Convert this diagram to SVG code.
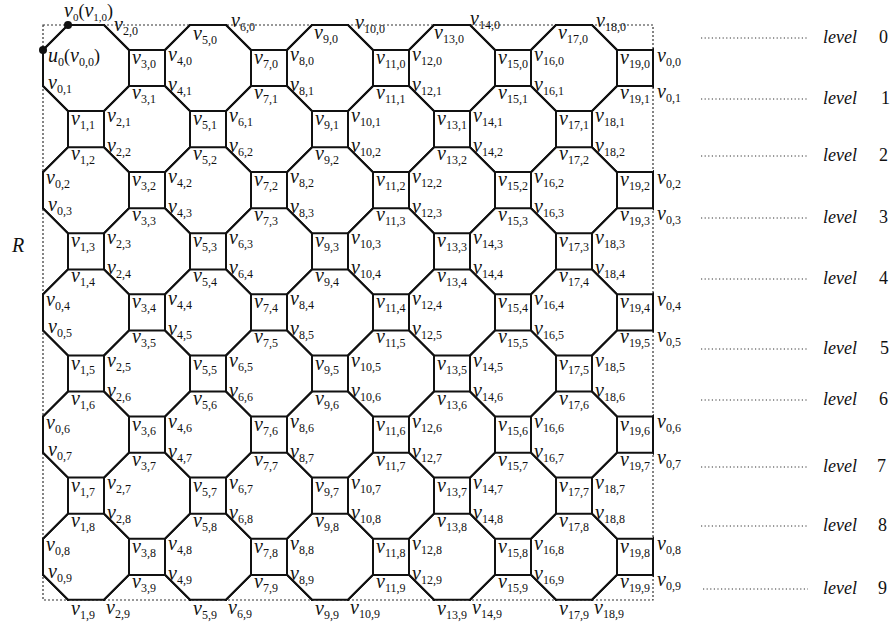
<svg xmlns="http://www.w3.org/2000/svg" width="891" height="622" viewBox="0 0 891 622" font-family="'Liberation Serif', serif">
<style>
.e{fill:none;stroke:#111;stroke-width:2;stroke-linejoin:miter}
.frame{fill:none;stroke:#333;stroke-width:1.2;stroke-dasharray:2 2}
.lvl{stroke:#333;stroke-width:1;stroke-dasharray:1.2 2.4}
text{font-family:'Liberation Serif',serif;font-size:20px;font-style:italic;fill:#111}
tspan{font-style:normal;font-size:12px}
tspan.p{font-size:18px}
tspan.q{font-size:11px}
text.lv{font-size:18px}
text.ld{font-size:18px;font-style:normal}
</style>
<defs>
<path id="oct" d="M-18,-43H18L43,-18V18L18,43H-18L-43,18V-18Z"/>
<g id="colO"><use href="#oct" y="6.9"/><use href="#oct" y="129.1"/><use href="#oct" y="251.3"/><use href="#oct" y="373.5"/><use href="#oct" y="495.7"/><use href="#oct" y="617.9"/></g>
<g id="colE"><use href="#oct" y="68"/><use href="#oct" y="190.2"/><use href="#oct" y="312.4"/><use href="#oct" y="434.6"/><use href="#oct" y="556.8"/></g>
<clipPath id="clip"><rect x="42" y="24" width="612" height="577"/></clipPath>
</defs>
<rect class="frame" x="43" y="25" width="610" height="575"/>
<g id="connectors" class="e" clip-path="url(#clip)">
<use href="#colO" x="25"/><use href="#colO" x="147"/><use href="#colO" x="269"/><use href="#colO" x="391"/><use href="#colO" x="513"/><use href="#colO" x="635"/>
<use href="#colE" x="86"/><use href="#colE" x="208"/><use href="#colE" x="330"/><use href="#colE" x="452"/><use href="#colE" x="574"/><use href="#colE" x="696"/>
</g>
<g id="dots" fill="#111"><circle cx="68" cy="25" r="4"/><circle cx="43" cy="50" r="4"/></g>
<g id="R"><text x="12" y="252">R</text></g>
<g id="levels">
<line class="lvl" x1="701" y1="38" x2="808" y2="38"/><text class="lv" x="823" y="43">level</text><text class="ld" x="879" y="43">0</text>
<line class="lvl" x1="701" y1="99" x2="808" y2="99"/><text class="lv" x="823" y="104">level</text><text class="ld" x="881" y="104">1</text>
<line class="lvl" x1="701" y1="156" x2="808" y2="156"/><text class="lv" x="823" y="161">level</text><text class="ld" x="879" y="161">2</text>
<line class="lvl" x1="701" y1="218" x2="808" y2="218"/><text class="lv" x="823" y="223">level</text><text class="ld" x="879" y="223">3</text>
<line class="lvl" x1="701" y1="279" x2="808" y2="279"/><text class="lv" x="823" y="284">level</text><text class="ld" x="879" y="284">4</text>
<line class="lvl" x1="701" y1="349" x2="808" y2="349"/><text class="lv" x="823" y="354">level</text><text class="ld" x="880" y="354">5</text>
<line class="lvl" x1="701" y1="400" x2="808" y2="400"/><text class="lv" x="823" y="405">level</text><text class="ld" x="879" y="405">6</text>
<line class="lvl" x1="701" y1="467" x2="808" y2="467"/><text class="lv" x="823" y="472">level</text><text class="ld" x="877" y="472">7</text>
<line class="lvl" x1="701" y1="526" x2="808" y2="526"/><text class="lv" x="823" y="531">level</text><text class="ld" x="878" y="531">8</text>
<line class="lvl" x1="703" y1="589" x2="808" y2="589"/><text class="lv" x="823" y="594">level</text><text class="ld" x="878" y="594">9</text>
</g>
<g id="nodes">
<g id="v1_0"><text x="64" y="17">v<tspan class="q" dy="4">0</tspan><tspan class="p" dy="-4">(</tspan>v<tspan class="q" dy="4">1,0</tspan><tspan class="p" dy="-4">)</tspan></text></g>
<g id="v0_0"><text x="48" y="62">u<tspan dy="4">0</tspan><tspan class="p" dy="-4">(</tspan>v<tspan dy="4">0,0</tspan><tspan class="p" dy="-4">)</tspan></text></g>
<g id="v0_1"><text x="48" y="89">v<tspan dy="4">0,1</tspan></text></g>
<g id="v0_2"><text x="46" y="184">v<tspan dy="4">0,2</tspan></text></g>
<g id="v0_3"><text x="48" y="211">v<tspan dy="4">0,3</tspan></text></g>
<g id="v0_4"><text x="46" y="306">v<tspan dy="4">0,4</tspan></text></g>
<g id="v0_5"><text x="48" y="333">v<tspan dy="4">0,5</tspan></text></g>
<g id="v0_6"><text x="46" y="429">v<tspan dy="4">0,6</tspan></text></g>
<g id="v0_7"><text x="48" y="456">v<tspan dy="4">0,7</tspan></text></g>
<g id="v0_8"><text x="46" y="551">v<tspan dy="4">0,8</tspan></text></g>
<g id="v0_9"><text x="48" y="578">v<tspan dy="4">0,9</tspan></text></g>
<g id="v1_1"><text x="71" y="125">v<tspan dy="4">1,1</tspan></text></g>
<g id="v1_2"><text x="71" y="160">v<tspan dy="4">1,2</tspan></text></g>
<g id="v1_3"><text x="71" y="247">v<tspan dy="4">1,3</tspan></text></g>
<g id="v1_4"><text x="71" y="282">v<tspan dy="4">1,4</tspan></text></g>
<g id="v1_5"><text x="71" y="370">v<tspan dy="4">1,5</tspan></text></g>
<g id="v1_6"><text x="71" y="405">v<tspan dy="4">1,6</tspan></text></g>
<g id="v1_7"><text x="71" y="492">v<tspan dy="4">1,7</tspan></text></g>
<g id="v1_8"><text x="71" y="527">v<tspan dy="4">1,8</tspan></text></g>
<g id="v1_9"><text x="71" y="615">v<tspan dy="4">1,9</tspan></text></g>
<g id="v2_0"><text x="114" y="31">v<tspan dy="4">2,0</tspan></text></g>
<g id="v2_1"><text x="107" y="122">v<tspan dy="4">2,1</tspan></text></g>
<g id="v2_2"><text x="107" y="152">v<tspan dy="4">2,2</tspan></text></g>
<g id="v2_3"><text x="107" y="244">v<tspan dy="4">2,3</tspan></text></g>
<g id="v2_4"><text x="107" y="274">v<tspan dy="4">2,4</tspan></text></g>
<g id="v2_5"><text x="107" y="367">v<tspan dy="4">2,5</tspan></text></g>
<g id="v2_6"><text x="107" y="397">v<tspan dy="4">2,6</tspan></text></g>
<g id="v2_7"><text x="107" y="489">v<tspan dy="4">2,7</tspan></text></g>
<g id="v2_8"><text x="107" y="519">v<tspan dy="4">2,8</tspan></text></g>
<g id="v2_9"><text x="106" y="614">v<tspan dy="4">2,9</tspan></text></g>
<g id="v3_0"><text x="132" y="64">v<tspan dy="4">3,0</tspan></text></g>
<g id="v3_1"><text x="132" y="99">v<tspan dy="4">3,1</tspan></text></g>
<g id="v3_2"><text x="132" y="186">v<tspan dy="4">3,2</tspan></text></g>
<g id="v3_3"><text x="132" y="221">v<tspan dy="4">3,3</tspan></text></g>
<g id="v3_4"><text x="132" y="308">v<tspan dy="4">3,4</tspan></text></g>
<g id="v3_5"><text x="132" y="343">v<tspan dy="4">3,5</tspan></text></g>
<g id="v3_6"><text x="132" y="431">v<tspan dy="4">3,6</tspan></text></g>
<g id="v3_7"><text x="132" y="466">v<tspan dy="4">3,7</tspan></text></g>
<g id="v3_8"><text x="132" y="553">v<tspan dy="4">3,8</tspan></text></g>
<g id="v3_9"><text x="132" y="588">v<tspan dy="4">3,9</tspan></text></g>
<g id="v4_0"><text x="168" y="61">v<tspan dy="4">4,0</tspan></text></g>
<g id="v4_1"><text x="168" y="91">v<tspan dy="4">4,1</tspan></text></g>
<g id="v4_2"><text x="168" y="183">v<tspan dy="4">4,2</tspan></text></g>
<g id="v4_3"><text x="168" y="213">v<tspan dy="4">4,3</tspan></text></g>
<g id="v4_4"><text x="168" y="305">v<tspan dy="4">4,4</tspan></text></g>
<g id="v4_5"><text x="168" y="335">v<tspan dy="4">4,5</tspan></text></g>
<g id="v4_6"><text x="168" y="428">v<tspan dy="4">4,6</tspan></text></g>
<g id="v4_7"><text x="168" y="458">v<tspan dy="4">4,7</tspan></text></g>
<g id="v4_8"><text x="168" y="550">v<tspan dy="4">4,8</tspan></text></g>
<g id="v4_9"><text x="168" y="580">v<tspan dy="4">4,9</tspan></text></g>
<g id="v5_0"><text x="193" y="40">v<tspan dy="4">5,0</tspan></text></g>
<g id="v5_1"><text x="193" y="125">v<tspan dy="4">5,1</tspan></text></g>
<g id="v5_2"><text x="193" y="160">v<tspan dy="4">5,2</tspan></text></g>
<g id="v5_3"><text x="193" y="247">v<tspan dy="4">5,3</tspan></text></g>
<g id="v5_4"><text x="193" y="282">v<tspan dy="4">5,4</tspan></text></g>
<g id="v5_5"><text x="193" y="370">v<tspan dy="4">5,5</tspan></text></g>
<g id="v5_6"><text x="193" y="405">v<tspan dy="4">5,6</tspan></text></g>
<g id="v5_7"><text x="193" y="492">v<tspan dy="4">5,7</tspan></text></g>
<g id="v5_8"><text x="193" y="527">v<tspan dy="4">5,8</tspan></text></g>
<g id="v5_9"><text x="193" y="615">v<tspan dy="4">5,9</tspan></text></g>
<g id="v6_0"><text x="231" y="27">v<tspan dy="4">6,0</tspan></text></g>
<g id="v6_1"><text x="229" y="122">v<tspan dy="4">6,1</tspan></text></g>
<g id="v6_2"><text x="229" y="152">v<tspan dy="4">6,2</tspan></text></g>
<g id="v6_3"><text x="229" y="244">v<tspan dy="4">6,3</tspan></text></g>
<g id="v6_4"><text x="229" y="274">v<tspan dy="4">6,4</tspan></text></g>
<g id="v6_5"><text x="229" y="367">v<tspan dy="4">6,5</tspan></text></g>
<g id="v6_6"><text x="229" y="397">v<tspan dy="4">6,6</tspan></text></g>
<g id="v6_7"><text x="229" y="489">v<tspan dy="4">6,7</tspan></text></g>
<g id="v6_8"><text x="229" y="519">v<tspan dy="4">6,8</tspan></text></g>
<g id="v6_9"><text x="228" y="614">v<tspan dy="4">6,9</tspan></text></g>
<g id="v7_0"><text x="254" y="64">v<tspan dy="4">7,0</tspan></text></g>
<g id="v7_1"><text x="254" y="99">v<tspan dy="4">7,1</tspan></text></g>
<g id="v7_2"><text x="254" y="186">v<tspan dy="4">7,2</tspan></text></g>
<g id="v7_3"><text x="254" y="221">v<tspan dy="4">7,3</tspan></text></g>
<g id="v7_4"><text x="254" y="308">v<tspan dy="4">7,4</tspan></text></g>
<g id="v7_5"><text x="254" y="343">v<tspan dy="4">7,5</tspan></text></g>
<g id="v7_6"><text x="254" y="431">v<tspan dy="4">7,6</tspan></text></g>
<g id="v7_7"><text x="254" y="466">v<tspan dy="4">7,7</tspan></text></g>
<g id="v7_8"><text x="254" y="553">v<tspan dy="4">7,8</tspan></text></g>
<g id="v7_9"><text x="254" y="588">v<tspan dy="4">7,9</tspan></text></g>
<g id="v8_0"><text x="290" y="61">v<tspan dy="4">8,0</tspan></text></g>
<g id="v8_1"><text x="290" y="91">v<tspan dy="4">8,1</tspan></text></g>
<g id="v8_2"><text x="290" y="183">v<tspan dy="4">8,2</tspan></text></g>
<g id="v8_3"><text x="290" y="213">v<tspan dy="4">8,3</tspan></text></g>
<g id="v8_4"><text x="290" y="305">v<tspan dy="4">8,4</tspan></text></g>
<g id="v8_5"><text x="290" y="335">v<tspan dy="4">8,5</tspan></text></g>
<g id="v8_6"><text x="290" y="428">v<tspan dy="4">8,6</tspan></text></g>
<g id="v8_7"><text x="290" y="458">v<tspan dy="4">8,7</tspan></text></g>
<g id="v8_8"><text x="290" y="550">v<tspan dy="4">8,8</tspan></text></g>
<g id="v8_9"><text x="290" y="580">v<tspan dy="4">8,9</tspan></text></g>
<g id="v9_0"><text x="314" y="39">v<tspan dy="4">9,0</tspan></text></g>
<g id="v9_1"><text x="315" y="125">v<tspan dy="4">9,1</tspan></text></g>
<g id="v9_2"><text x="315" y="160">v<tspan dy="4">9,2</tspan></text></g>
<g id="v9_3"><text x="315" y="247">v<tspan dy="4">9,3</tspan></text></g>
<g id="v9_4"><text x="315" y="282">v<tspan dy="4">9,4</tspan></text></g>
<g id="v9_5"><text x="315" y="370">v<tspan dy="4">9,5</tspan></text></g>
<g id="v9_6"><text x="315" y="405">v<tspan dy="4">9,6</tspan></text></g>
<g id="v9_7"><text x="315" y="492">v<tspan dy="4">9,7</tspan></text></g>
<g id="v9_8"><text x="315" y="527">v<tspan dy="4">9,8</tspan></text></g>
<g id="v9_9"><text x="315" y="615">v<tspan dy="4">9,9</tspan></text></g>
<g id="v10_0"><text x="355" y="29">v<tspan dy="4">10,0</tspan></text></g>
<g id="v10_1"><text x="351" y="122">v<tspan dy="4">10,1</tspan></text></g>
<g id="v10_2"><text x="351" y="152">v<tspan dy="4">10,2</tspan></text></g>
<g id="v10_3"><text x="351" y="244">v<tspan dy="4">10,3</tspan></text></g>
<g id="v10_4"><text x="351" y="274">v<tspan dy="4">10,4</tspan></text></g>
<g id="v10_5"><text x="351" y="367">v<tspan dy="4">10,5</tspan></text></g>
<g id="v10_6"><text x="351" y="397">v<tspan dy="4">10,6</tspan></text></g>
<g id="v10_7"><text x="351" y="489">v<tspan dy="4">10,7</tspan></text></g>
<g id="v10_8"><text x="351" y="519">v<tspan dy="4">10,8</tspan></text></g>
<g id="v10_9"><text x="350" y="614">v<tspan dy="4">10,9</tspan></text></g>
<g id="v11_0"><text x="376" y="64">v<tspan dy="4">11,0</tspan></text></g>
<g id="v11_1"><text x="376" y="99">v<tspan dy="4">11,1</tspan></text></g>
<g id="v11_2"><text x="376" y="186">v<tspan dy="4">11,2</tspan></text></g>
<g id="v11_3"><text x="376" y="221">v<tspan dy="4">11,3</tspan></text></g>
<g id="v11_4"><text x="376" y="308">v<tspan dy="4">11,4</tspan></text></g>
<g id="v11_5"><text x="376" y="343">v<tspan dy="4">11,5</tspan></text></g>
<g id="v11_6"><text x="376" y="431">v<tspan dy="4">11,6</tspan></text></g>
<g id="v11_7"><text x="376" y="466">v<tspan dy="4">11,7</tspan></text></g>
<g id="v11_8"><text x="376" y="553">v<tspan dy="4">11,8</tspan></text></g>
<g id="v11_9"><text x="376" y="588">v<tspan dy="4">11,9</tspan></text></g>
<g id="v12_0"><text x="412" y="61">v<tspan dy="4">12,0</tspan></text></g>
<g id="v12_1"><text x="412" y="91">v<tspan dy="4">12,1</tspan></text></g>
<g id="v12_2"><text x="412" y="183">v<tspan dy="4">12,2</tspan></text></g>
<g id="v12_3"><text x="412" y="213">v<tspan dy="4">12,3</tspan></text></g>
<g id="v12_4"><text x="412" y="305">v<tspan dy="4">12,4</tspan></text></g>
<g id="v12_5"><text x="412" y="335">v<tspan dy="4">12,5</tspan></text></g>
<g id="v12_6"><text x="412" y="428">v<tspan dy="4">12,6</tspan></text></g>
<g id="v12_7"><text x="412" y="458">v<tspan dy="4">12,7</tspan></text></g>
<g id="v12_8"><text x="412" y="550">v<tspan dy="4">12,8</tspan></text></g>
<g id="v12_9"><text x="412" y="580">v<tspan dy="4">12,9</tspan></text></g>
<g id="v13_0"><text x="434" y="39">v<tspan dy="4">13,0</tspan></text></g>
<g id="v13_1"><text x="437" y="125">v<tspan dy="4">13,1</tspan></text></g>
<g id="v13_2"><text x="437" y="160">v<tspan dy="4">13,2</tspan></text></g>
<g id="v13_3"><text x="437" y="247">v<tspan dy="4">13,3</tspan></text></g>
<g id="v13_4"><text x="437" y="282">v<tspan dy="4">13,4</tspan></text></g>
<g id="v13_5"><text x="437" y="370">v<tspan dy="4">13,5</tspan></text></g>
<g id="v13_6"><text x="437" y="405">v<tspan dy="4">13,6</tspan></text></g>
<g id="v13_7"><text x="437" y="492">v<tspan dy="4">13,7</tspan></text></g>
<g id="v13_8"><text x="437" y="527">v<tspan dy="4">13,8</tspan></text></g>
<g id="v13_9"><text x="437" y="615">v<tspan dy="4">13,9</tspan></text></g>
<g id="v14_0"><text x="470" y="25">v<tspan dy="4">14,0</tspan></text></g>
<g id="v14_1"><text x="473" y="122">v<tspan dy="4">14,1</tspan></text></g>
<g id="v14_2"><text x="473" y="152">v<tspan dy="4">14,2</tspan></text></g>
<g id="v14_3"><text x="473" y="244">v<tspan dy="4">14,3</tspan></text></g>
<g id="v14_4"><text x="473" y="274">v<tspan dy="4">14,4</tspan></text></g>
<g id="v14_5"><text x="473" y="367">v<tspan dy="4">14,5</tspan></text></g>
<g id="v14_6"><text x="473" y="397">v<tspan dy="4">14,6</tspan></text></g>
<g id="v14_7"><text x="473" y="489">v<tspan dy="4">14,7</tspan></text></g>
<g id="v14_8"><text x="473" y="519">v<tspan dy="4">14,8</tspan></text></g>
<g id="v14_9"><text x="472" y="614">v<tspan dy="4">14,9</tspan></text></g>
<g id="v15_0"><text x="498" y="64">v<tspan dy="4">15,0</tspan></text></g>
<g id="v15_1"><text x="498" y="99">v<tspan dy="4">15,1</tspan></text></g>
<g id="v15_2"><text x="498" y="186">v<tspan dy="4">15,2</tspan></text></g>
<g id="v15_3"><text x="498" y="221">v<tspan dy="4">15,3</tspan></text></g>
<g id="v15_4"><text x="498" y="308">v<tspan dy="4">15,4</tspan></text></g>
<g id="v15_5"><text x="498" y="343">v<tspan dy="4">15,5</tspan></text></g>
<g id="v15_6"><text x="498" y="431">v<tspan dy="4">15,6</tspan></text></g>
<g id="v15_7"><text x="498" y="466">v<tspan dy="4">15,7</tspan></text></g>
<g id="v15_8"><text x="498" y="553">v<tspan dy="4">15,8</tspan></text></g>
<g id="v15_9"><text x="498" y="588">v<tspan dy="4">15,9</tspan></text></g>
<g id="v16_0"><text x="534" y="61">v<tspan dy="4">16,0</tspan></text></g>
<g id="v16_1"><text x="534" y="91">v<tspan dy="4">16,1</tspan></text></g>
<g id="v16_2"><text x="534" y="183">v<tspan dy="4">16,2</tspan></text></g>
<g id="v16_3"><text x="534" y="213">v<tspan dy="4">16,3</tspan></text></g>
<g id="v16_4"><text x="534" y="305">v<tspan dy="4">16,4</tspan></text></g>
<g id="v16_5"><text x="534" y="335">v<tspan dy="4">16,5</tspan></text></g>
<g id="v16_6"><text x="534" y="428">v<tspan dy="4">16,6</tspan></text></g>
<g id="v16_7"><text x="534" y="458">v<tspan dy="4">16,7</tspan></text></g>
<g id="v16_8"><text x="534" y="550">v<tspan dy="4">16,8</tspan></text></g>
<g id="v16_9"><text x="534" y="580">v<tspan dy="4">16,9</tspan></text></g>
<g id="v17_0"><text x="558" y="39">v<tspan dy="4">17,0</tspan></text></g>
<g id="v17_1"><text x="559" y="125">v<tspan dy="4">17,1</tspan></text></g>
<g id="v17_2"><text x="559" y="160">v<tspan dy="4">17,2</tspan></text></g>
<g id="v17_3"><text x="559" y="247">v<tspan dy="4">17,3</tspan></text></g>
<g id="v17_4"><text x="559" y="282">v<tspan dy="4">17,4</tspan></text></g>
<g id="v17_5"><text x="559" y="370">v<tspan dy="4">17,5</tspan></text></g>
<g id="v17_6"><text x="559" y="405">v<tspan dy="4">17,6</tspan></text></g>
<g id="v17_7"><text x="559" y="492">v<tspan dy="4">17,7</tspan></text></g>
<g id="v17_8"><text x="559" y="527">v<tspan dy="4">17,8</tspan></text></g>
<g id="v17_9"><text x="559" y="615">v<tspan dy="4">17,9</tspan></text></g>
<g id="v18_0"><text x="596" y="27">v<tspan dy="4">18,0</tspan></text></g>
<g id="v18_1"><text x="595" y="122">v<tspan dy="4">18,1</tspan></text></g>
<g id="v18_2"><text x="595" y="152">v<tspan dy="4">18,2</tspan></text></g>
<g id="v18_3"><text x="595" y="244">v<tspan dy="4">18,3</tspan></text></g>
<g id="v18_4"><text x="595" y="274">v<tspan dy="4">18,4</tspan></text></g>
<g id="v18_5"><text x="595" y="367">v<tspan dy="4">18,5</tspan></text></g>
<g id="v18_6"><text x="595" y="397">v<tspan dy="4">18,6</tspan></text></g>
<g id="v18_7"><text x="595" y="489">v<tspan dy="4">18,7</tspan></text></g>
<g id="v18_8"><text x="595" y="519">v<tspan dy="4">18,8</tspan></text></g>
<g id="v18_9"><text x="594" y="614">v<tspan dy="4">18,9</tspan></text></g>
<g id="v19_0"><text x="620" y="64">v<tspan dy="4">19,0</tspan></text></g>
<g id="v19_1"><text x="620" y="99">v<tspan dy="4">19,1</tspan></text></g>
<g id="v19_2"><text x="620" y="186">v<tspan dy="4">19,2</tspan></text></g>
<g id="v19_3"><text x="620" y="221">v<tspan dy="4">19,3</tspan></text></g>
<g id="v19_4"><text x="620" y="308">v<tspan dy="4">19,4</tspan></text></g>
<g id="v19_5"><text x="620" y="343">v<tspan dy="4">19,5</tspan></text></g>
<g id="v19_6"><text x="620" y="431">v<tspan dy="4">19,6</tspan></text></g>
<g id="v19_7"><text x="620" y="466">v<tspan dy="4">19,7</tspan></text></g>
<g id="v19_8"><text x="620" y="553">v<tspan dy="4">19,8</tspan></text></g>
<g id="v19_9"><text x="620" y="588">v<tspan dy="4">19,9</tspan></text></g>
<g id="v0_0r"><text x="657" y="62">v<tspan dy="4">0,0</tspan></text></g>
<g id="v0_1r"><text x="657" y="98">v<tspan dy="4">0,1</tspan></text></g>
<g id="v0_2r"><text x="657" y="184">v<tspan dy="4">0,2</tspan></text></g>
<g id="v0_3r"><text x="657" y="220">v<tspan dy="4">0,3</tspan></text></g>
<g id="v0_4r"><text x="657" y="306">v<tspan dy="4">0,4</tspan></text></g>
<g id="v0_5r"><text x="657" y="342">v<tspan dy="4">0,5</tspan></text></g>
<g id="v0_6r"><text x="657" y="428">v<tspan dy="4">0,6</tspan></text></g>
<g id="v0_7r"><text x="657" y="464">v<tspan dy="4">0,7</tspan></text></g>
<g id="v0_8r"><text x="657" y="550">v<tspan dy="4">0,8</tspan></text></g>
<g id="v0_9r"><text x="657" y="586">v<tspan dy="4">0,9</tspan></text></g>
</g>
</svg>
